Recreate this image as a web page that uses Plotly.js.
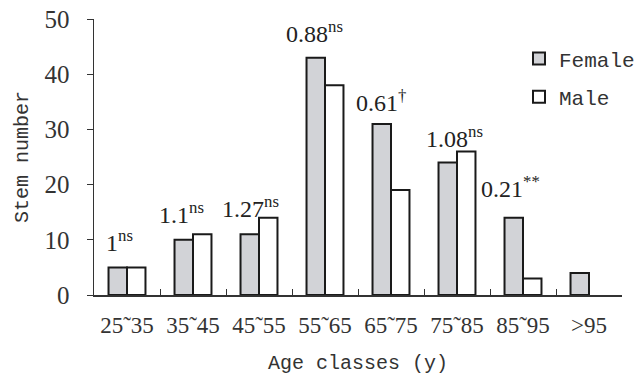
<!DOCTYPE html>
<html><head><meta charset="utf-8">
<script src="https://cdn.plot.ly/plotly-3.0.1.min.js"></script>
<style>html,body{margin:0;padding:0;background:#fff}#c{width:640px;height:376px}</style>
</head><body><div id="c"></div>
<script>
const categories = ["25\u02DC35","35\u02DC45","45\u02DC55","55\u02DC65","65\u02DC75","75\u02DC85","85\u02DC95",">95"];
const female = [5, 10, 11, 43, 31, 24, 14, 4];
const male = [5, 11, 14, 38, 19, 26, 3, 0];
const ratios = ["1", "1.1", "1.27", "0.88", "0.61", "1.08", "0.21"];
const signif = ["ns", "ns", "ns", "ns", "\u2020", "ns", "**"];
const labelY = [9.8, 14.8, 15.9, 47.6, 35.2, 28.6, 19.6];
const labelShift = [-8, -12, -9, -11, -10, -3, -13];

const serif = "Liberation Serif";
const mono = "Liberation Mono";

const traces = [
  {type:"bar", name:"Female", legendgroup:"f", x:categories, y:female,
   marker:{color:"#d2d3d7", line:{color:"#1a1a1a", width:2}}},
  {type:"bar", name:"Male", legendgroup:"m", x:categories, y:male.map(v=>v===0?null:v),
   marker:{color:"#ffffff", line:{color:"#1a1a1a", width:2}}}
];

const annotations = ratios.map((r,i)=>({
  x: categories[i], y: labelY[i], xref:"x", yref:"y",
  text: r + "<sup>" + signif[i] + "</sup>",
  showarrow:false, xshift: labelShift[i],
  font:{family:serif, size:24, color:"#222"}
}));

const layout = {
  width:640, height:376,
  margin:{l:94, r:0, t:19, b:81},
  paper_bgcolor:"#fff", plot_bgcolor:"#fff",
  barmode:"group", bargap:0.44, bargroupgap:0,
  showlegend:true,
  legend:{x:0.805, y:0.93, xanchor:"left", yanchor:"top",
    font:{family:mono, size:21, color:"#333"}, traceorder:"grouped", tracegroupgap:8, itemwidth:30,
    bgcolor:"rgba(0,0,0,0)"},
  xaxis:{type:"category", range:[-0.5,7.5], showline:true, linecolor:"#333", linewidth:1.5,
    ticks:"inside", tickson:"boundaries", ticklen:6, tickcolor:"#333",
    tickfont:{family:serif, size:23, color:"#333"}, ticklabelstandoff:9,
    title:{text:"Age classes (y)", font:{family:mono, size:20, color:"#333"}, standoff:18},
    showgrid:false, zeroline:false, fixedrange:true},
  yaxis:{range:[0,50], dtick:10, showline:true, linecolor:"#333", linewidth:1.5,
    ticks:"outside", ticklen:6, tickcolor:"#333",
    tickfont:{family:serif, size:25, color:"#333"}, ticklabelstandoff:12,
    title:{text:"Stem number", font:{family:mono, size:20, color:"#333"}, standoff:10},
    showgrid:false, zeroline:false, fixedrange:true},
  annotations: annotations
};

Plotly.newPlot("c", traces, layout, {staticPlot:true, displayModeBar:false});
</script></body></html>
